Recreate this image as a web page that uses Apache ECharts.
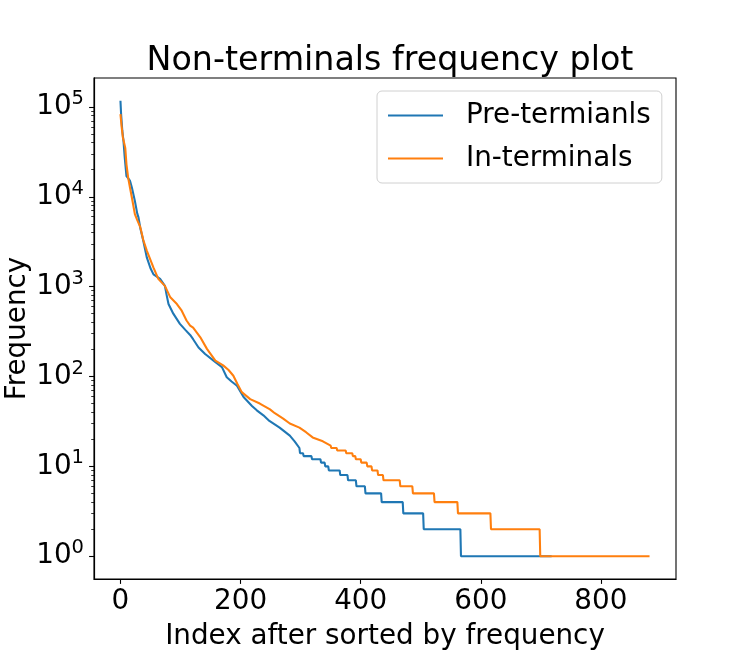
<!DOCTYPE html>
<html>
<head>
<meta charset="utf-8">
<script src="https://cdn.jsdelivr.net/npm/echarts@6/dist/echarts.min.js"></script>
<style>
html,body{margin:0;padding:0;background:#fff;}
#chart{width:750px;height:650px;}
</style>
</head>
<body>
<div id="chart"></div>
<script>
const titleText = 'Non-terminals frequency plot';
const xAxisName = 'Index after sorted by frequency';
const yAxisName = 'Frequency';
const seriesNames = ['Pre-termianls', 'In-terminals'];
const xTickValues = [0, 200, 400, 600, 800];
const yTickValues = [1, 10, 100, 1000, 10000, 100000];
const yMinorTickValues = [2,3,4,5,6,7,8,9,20,30,40,50,60,70,80,90,200,300,400,500,600,700,800,900,
  2000,3000,4000,5000,6000,7000,8000,9000,20000,30000,40000,50000,60000,70000,80000,90000];

const blueIdx = [0,1,3,5,7,9,10,13,16,19,24,28,30,33,38,44,50,55,60,66,74,77,80,88,99,108,116,121,130,141,155,169,177,185,194,205,219,227,238,248,265,282,290,298,
  299,304,305,318,319,333,334,340,341,346,347,365,366,378,379,392,393,407,408,434,435,470,471,504,505,566,567,718];
const blueFreq = [117000,85000,55000,42000,28000,20000,17000,16000,15000,12700,9000,6500,5900,4500,3240,2100,1600,1370,1300,1220,1020,800,640,500,385,330,290,260,210,178,150,127,98,88,79,59,47,42,37,32,27,22,19,16,
  14,14,13,13,12,12,11,11,10,10,9,9,8,8,7,7,6,6,5,5,4,4,3,3,2,2,1,1];

const orangeIdx = [0,2,4,8,10,13,16,19,24,28,33,38,44,55,63,74,83,94,102,110,116,121,133,144,158,171,180,188,195,202,216,232,249,257,271,282,298,309,320,337,350,
  351,360,361,375,376,386,387,391,392,400,401,410,411,418,419,428,429,437,438,465,466,486,487,522,523,561,562,616,617,698,699,881];
const orangeFreq = [83000,60000,46000,35000,23000,16000,12500,9800,6400,5500,4600,3300,2500,1630,1220,1020,760,640,540,420,369,350,273,203,150,133,118,102,82,67,56,50,43,39,34,30,27,24,21,19,17,
  16,16,15,15,14,14,13,13,12,12,11,11,10,10,9,9,8,8,7,7,6,6,5,5,4,4,3,3,2,2,1,1];

const FONT = 'DejaVu Sans';
const FS = 27.8;

function pairs(xs, ys){ return xs.map((x,i)=>[x, ys[i]]); }

const allX = blueIdx.concat(orangeIdx);
const allY = blueFreq.concat(orangeFreq);
const xLo = Math.min(...allX), xHi = Math.max(...allX);
const xPad = 0.05*(xHi-xLo);
const lyLo = Math.log10(Math.min(...allY)), lyHi = Math.log10(Math.max(...allY));
const yPad = 0.05*(lyHi-lyLo);
const yMin = Math.pow(10, lyLo - yPad), yMax = Math.pow(10, lyHi + yPad);

const chart = echarts.init(document.getElementById('chart'), null, {renderer:'canvas'});
const yAxisCommon = {
  type:'log', logBase:10, min:yMin, max:yMax, gridIndex:0, position:'left',
  axisLine:{show:true, onZero:false, lineStyle:{color:'#000', width:1.1}}, splitLine:{show:false}, minorTick:{show:false}
};
chart.setOption({
  animation:false,
  backgroundColor:'#fff',
  title:{
    text:titleText, left:385, top:40, textAlign:'center',
    textStyle:{fontFamily:FONT, fontSize:33.3, fontWeight:'normal', color:'#000'}
  },
  grid:{left:94, right:74, top:78, bottom:71, show:true, borderColor:'#000', borderWidth:1.1,
        containLabel:false, outerBoundsMode:'none'},
  legend:{
    orient:'vertical', left:377, top:91,
    data:seriesNames,
    icon:'rect', itemWidth:55, itemHeight:2.1, itemGap:10,
    padding:[8,11,8,11],
    borderColor:'#d0d0d0', borderWidth:1, borderRadius:5, backgroundColor:'rgba(255,255,255,0.8)',
    textStyle:{fontFamily:FONT, fontSize:FS, color:'#000', lineHeight:33, padding:[0,0,0,18]}
  },
  xAxis:{
    type:'value', min:xLo - xPad, max:xHi + xPad,
    name:xAxisName, nameLocation:'middle', nameGap:44, nameMoveOverlap:false,
    nameTextStyle:{fontFamily:FONT, fontSize:FS, color:'#000'},
    axisLine:{show:true, onZero:false, lineStyle:{color:'#000', width:1.1}}, splitLine:{show:false},
    axisTick:{show:true, inside:false, customValues:xTickValues, length:4.9, lineStyle:{color:'#000', width:1.1}},
    axisLabel:{customValues:xTickValues, margin:9, fontFamily:FONT, fontSize:FS, color:'#000'}
  },
  yAxis:[
    Object.assign({}, yAxisCommon, {
      name:yAxisName, nameLocation:'middle', nameGap:62, nameMoveOverlap:false,
      nameTextStyle:{fontFamily:FONT, fontSize:FS, color:'#000'},
      axisTick:{show:true, inside:false, customValues:yTickValues, length:4.9, lineStyle:{color:'#000', width:1.1}},
      axisLabel:{
        customValues:yTickValues, margin:10,
        formatter:function(v){ return '{b|10}{s|' + Math.round(Math.log10(v)) + '}'; },
        rich:{
          b:{fontFamily:FONT, fontSize:FS, color:'#000', lineHeight:36},
          s:{fontFamily:FONT, fontSize:19.5, color:'#000', lineHeight:20, verticalAlign:'top'}
        }
      }
    }),
    Object.assign({}, yAxisCommon, {
      axisTick:{show:true, inside:false, customValues:yMinorTickValues, length:2.8, lineStyle:{color:'#000', width:0.8}},
      axisLabel:{show:false}
    })
  ],
  series:[
    {name:seriesNames[0], type:'line', data:pairs(blueIdx, blueFreq), showSymbol:false, symbol:'none',
     color:'#1f77b4', lineStyle:{color:'#1f77b4', width:2.08}, z:2},
    {name:seriesNames[1], type:'line', data:pairs(orangeIdx, orangeFreq), showSymbol:false, symbol:'none',
     color:'#ff7f0e', lineStyle:{color:'#ff7f0e', width:2.08}, z:3}
  ]
});
</script>
</body>
</html>
